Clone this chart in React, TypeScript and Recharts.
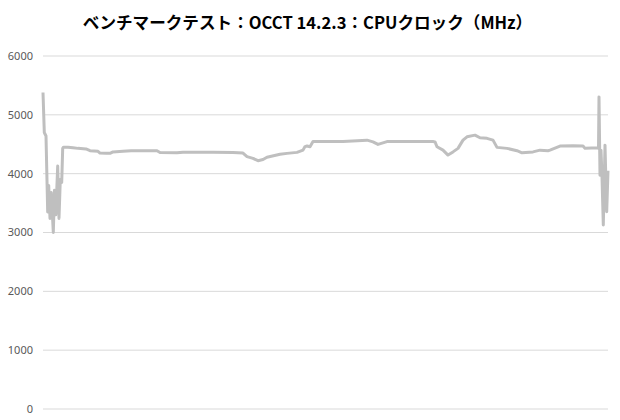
import React from "react";
import { LineChart, Line, XAxis, YAxis, CartesianGrid } from "recharts";

const title = "ベンチマークテスト：OCCT 14.2.3：CPUクロック（MHz）";
const yTicks = [0, 1000, 2000, 3000, 4000, 5000, 6000];

const timeIndex = [
  0, 1.3, 3, 4.7, 5.7, 7, 8.3, 10.3, 11.5, 12.8, 14.7, 16, 17.3, 18.7, 19.7, 20.5,
  25, 30, 35, 43, 47, 55, 57, 63, 67, 70, 80, 88, 114, 117, 134, 140, 170, 190,
  200, 204, 210, 215, 220, 224, 237, 244, 254, 260, 262, 264, 267, 270, 276, 300,
  324, 330, 335, 344, 390, 392, 394, 400, 405, 410, 415, 420, 424, 432, 437, 444,
  450, 454, 464, 474, 479, 490, 497, 505, 507, 517, 530, 540, 542, 555, 555.5,
  556, 557, 558, 559, 560.3, 562, 563, 563.7, 565,
];

const clockMHz = [
  5380, 4700, 4640, 3350, 3800, 3240, 3680, 3000, 3720, 3300, 4130, 3240, 3900, 3850, 4430, 4450,
  4450, 4440, 4430, 4420, 4390, 4380, 4350, 4345, 4345, 4370, 4380, 4390, 4390, 4360, 4355, 4365, 4365, 4360,
  4350, 4290, 4260, 4220, 4240, 4280, 4330, 4345, 4362, 4400, 4460, 4470, 4457, 4545, 4545, 4545,
  4570, 4540, 4497, 4545, 4545, 4540, 4457, 4400, 4316, 4370, 4430, 4570, 4627, 4655, 4610, 4600,
  4570, 4447, 4430, 4390, 4355, 4370, 4400, 4390, 4400, 4470, 4475, 4470, 4430, 4440, 4430,
  5305, 3975, 4400, 3950, 3128, 4485, 3800, 3353, 4050,
];

const data = timeIndex.map((t, i) => ({ t, v: clockMHz[i] }));

export default function App() {
  return (
    <div
      style={{
        position: "absolute",
        left: 0,
        top: 0,
        width: 620,
        height: 420,
        background: "#ffffff",
      }}
    >
      <div
        style={{
          position: "absolute",
          left: 0,
          top: 9,
          width: 620,
          textAlign: "center",
          fontFamily: "'Noto Sans CJK JP', 'Noto Sans', sans-serif",
          fontWeight: 700,
          fontSize: 16.6,
          color: "#000000",
          lineHeight: "26px",
          paddingRight: 5,
          boxSizing: "border-box",
          whiteSpace: "nowrap",
        }}
      >
        {title}
      </div>
      <LineChart
        width={620}
        height={420}
        data={data}
        margin={{ top: 56, right: 12, bottom: 11, left: 0 }}
      >
        <CartesianGrid vertical={false} stroke="#d9d9d9" strokeWidth={1} />
        <XAxis dataKey="t" type="number" domain={[0, 565]} hide />
        <YAxis
          width={43}
          domain={[0, 6000]}
          ticks={yTicks}
          axisLine={false}
          tickLine={false}
          tickSize={0}
          tickMargin={10}
          interval={0}
          tick={{ fill: "#595959", fontSize: 11, fontFamily: "'Noto Sans', sans-serif" }}
        />
        <Line
          type="linear"
          dataKey="v"
          stroke="#bfbfbf"
          strokeWidth={3}
          dot={false}
          isAnimationActive={false}
          strokeLinejoin="round"
        />
      </LineChart>
    </div>
  );
}
